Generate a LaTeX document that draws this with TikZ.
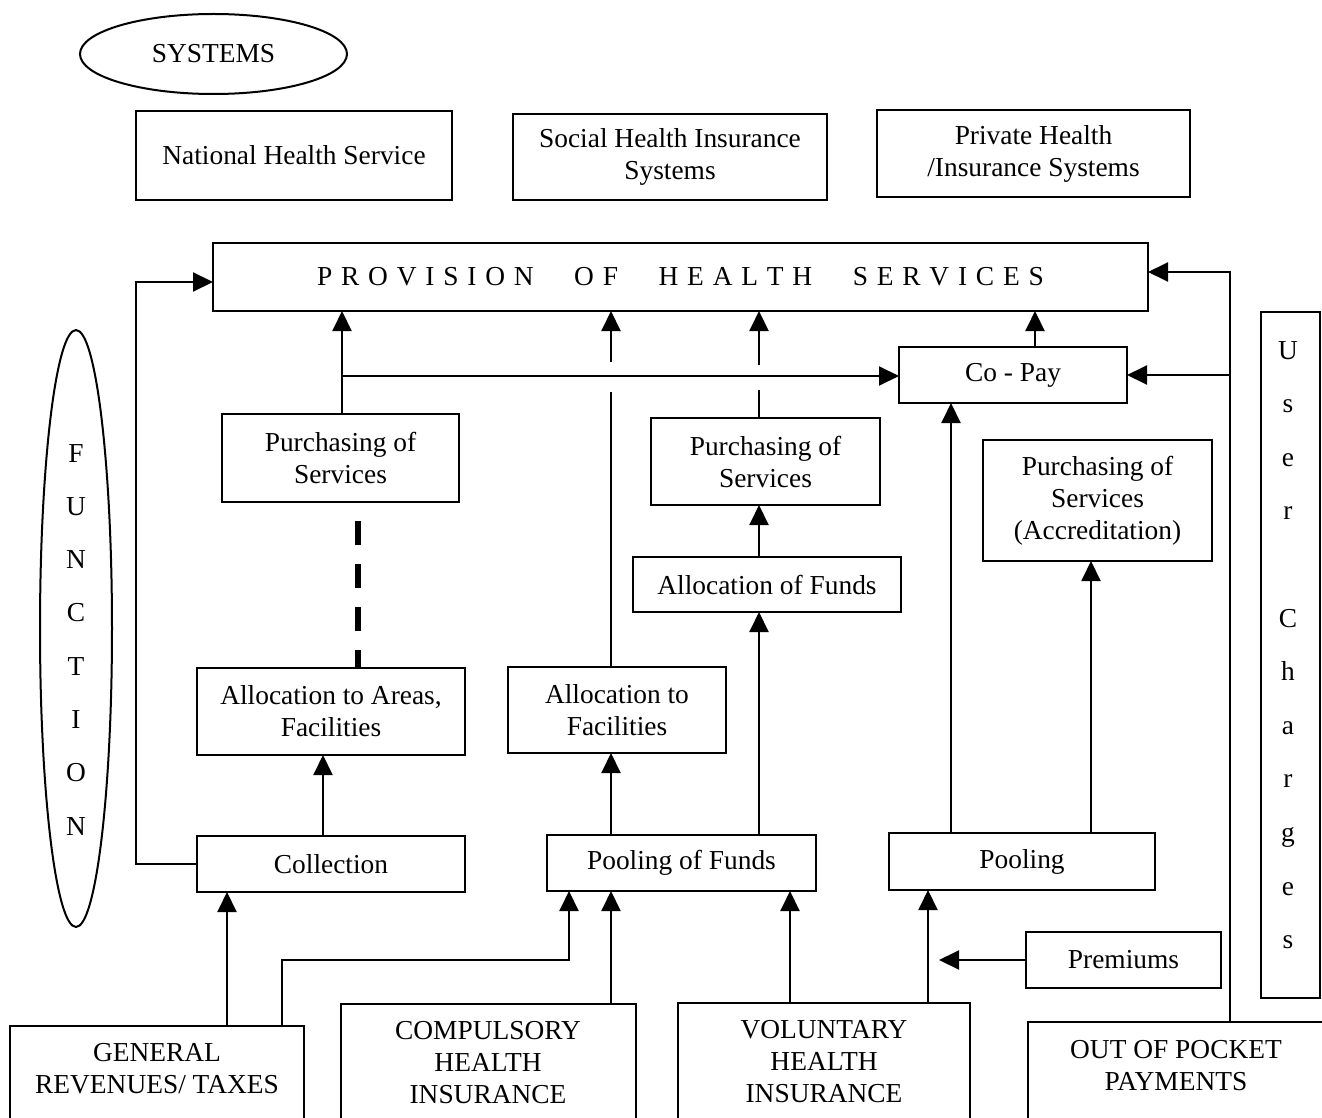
\documentclass[tikz,border=0pt]{standalone}
\usepackage{fontspec}
\setmainfont{Liberation Serif}
\usetikzlibrary{shapes.geometric,arrows.meta}
\newcommand\myls{\hspace{4.4pt}}
\newcommand\myws{\hspace{20.3pt}}
% \mybox{name}{x1}{y1}{x2}{y2}{text}
\newcommand\mybox[6]{\node[box, minimum width={(#4-#2)*0.5pt}, minimum height={(#5-#3)*0.5pt}] (#1) at ({(#2+#4)/2},{(#3+#5)/2}) {#6};}
\begin{document}
\begin{tikzpicture}[x=0.5pt,y=-0.5pt,
  font=\fontsize{13.7}{16}\selectfont,
  box/.style={draw, line width=1.1pt, inner sep=0pt, outer sep=0pt, align=center},
  oval/.style={draw, ellipse, line width=1pt, inner sep=0pt},
  conn/.style={line width=1pt},
  arr/.style={line width=1pt, -{Triangle[length=10pt,width=9.5pt]}},
  txt/.style={align=center, inner sep=0pt}
]
\useasboundingbox (0,0) rectangle (1322,1118);
\clip (0,0) rectangle (1322,1118);

% ovals
\node[oval, minimum width=133.5pt, minimum height=40pt] (sys) at (213.5,54) {SYSTEMS};
\node[oval, minimum width=36pt, minimum height=298.5pt] (func) at (76,628.5) {};
\foreach \ch [count=\i] in {F,U,N,C,T,I,O,N}
  \node[anchor=base, inner sep=0pt] (fn\i) at (76,{462+53.3*(\i-1)}) {\ch};

% system boxes
\mybox{nhs}{136}{111}{452}{200}{National Health Service}
\mybox{shi}{513}{114}{827}{200}{Social Health Insurance\\Systems}
\mybox{phi}{877}{110}{1190}{197}{Private Health\\/Insurance Systems}

% provision
\mybox{prov}{213}{243}{1148}{311}{P\myls R\myls O\myls V\myls I\myls S\myls I\myls O\myls N\myws O\myls F\myws H\myls E\myls A\myls L\myls T\myls H\myws S\myls E\myls R\myls V\myls I\myls C\myls E\myls S}

\mybox{copay}{899}{347}{1127}{403}{Co - Pay}

% user charges
\mybox{uc}{1261}{312}{1320}{998}{}
\foreach \ch/\k in {U/0,s/1,e/2,r/3,C/5,h/6,a/7,r/8,g/9,e/10,s/11}
  \node[anchor=base, inner sep=0pt] (uc\k) at (1288,{359+53.6*\k}) {\ch};

% middle boxes
\mybox{pl}{222}{414}{459}{502}{Purchasing of\\Services}
\mybox{pm}{651}{418}{880}{505}{Purchasing of\\Services}
\mybox{pa}{983}{440}{1212}{561}{Purchasing of\\Services\\(Accreditation)}
\mybox{afund}{633}{557}{901}{612}{Allocation of Funds}
\mybox{aa}{197}{668}{465}{755}{Allocation to Areas,\\Facilities}
\mybox{af}{508}{667}{726}{753}{Allocation to\\Facilities}
\mybox{coll}{197}{836}{465}{892}{Collection}
\mybox{pof}{547}{835}{816}{891}{Pooling of Funds}
\mybox{pool}{889}{833}{1155}{890}{Pooling}
\mybox{prem}{1026}{932}{1221}{988}{Premiums}

% bottom source boxes
\mybox{gen}{10}{1026}{304}{1180}{}
\mybox{comp}{341}{1004}{636}{1180}{}
\mybox{vol}{678}{1003}{970}{1180}{}
\mybox{oop}{1028}{1022}{1345}{1180}{}
\node[txt] (gent) at (157,1069) {GENERAL\\REVENUES/ TAXES};
\node[txt] (compt) at (488,1063) {COMPULSORY\\HEALTH\\INSURANCE};
\node[txt] (volt) at (824,1062) {VOLUNTARY\\HEALTH\\INSURANCE};
\node[txt] (oopt) at (1176,1066) {OUT OF POCKET\\PAYMENTS};

% helper coordinates
\coordinate (c227) at (227,0);
\coordinate (c323) at (323,0);
\coordinate (c342) at (342,0);
\coordinate (c358) at (358,0);
\coordinate (c569) at (569,0);
\coordinate (c611) at (611,0);
\coordinate (c759) at (759,0);
\coordinate (c790) at (790,0);
\coordinate (c928) at (928,0);
\coordinate (c951) at (951,0);
\coordinate (c1035) at (1035,0);
\coordinate (c1091) at (1091,0);
\coordinate (lbend) at (136,282);
\coordinate (rbend) at (1230,272);
\coordinate (hbend) at (342,376);
\coordinate (gbend) at (282,960);
\coordinate (premtip) at (939,958);
\coordinate (g1a) at (611,392);
\coordinate (g1b) at (611,362);
\coordinate (g2a) at (759,390);
\coordinate (g2b) at (759,365);

% connectors
\draw[arr] (coll.west) -| (lbend) -- (lbend -| prov.west);
\draw[arr] (oop.north -| rbend) -- (rbend) -- (rbend -| prov.east);
\draw[arr] (copay.east -| rbend) -- (copay.east);
\draw[arr] (copay.north -| c1035) -- (prov.south -| c1035);
\draw[arr] (pl.north -| c342) -- (prov.south -| c342);
\draw[arr] (hbend) -- (hbend -| copay.west);
\draw[line width=3pt, dash pattern=on 12pt off 9.5pt, dash phase=12pt] (pl.south -| c358) -- (aa.north -| c358);
\draw[arr] (coll.north -| c323) -- (aa.south -| c323);
\draw[arr] (gen.north -| c227) -- (coll.south -| c227);
\draw[arr] (gen.north -| gbend) -- (gbend) -| (pof.south -| c569);
\draw[arr] (comp.north -| c611) -- (pof.south -| c611);
\draw[arr] (vol.north -| c790) -- (pof.south -| c790);
\draw[arr] (vol.north -| c928) -- (pool.south -| c928);
\draw[arr] (prem.west) -- (prem.west -| premtip);
\draw[arr] (pof.north -| c611) -- (af.south -| c611);
\draw[conn] (af.north -| g1a) -- (g1a);
\draw[arr] (g1b) -- (prov.south -| g1b);
\draw[arr] (pof.north -| c759) -- (afund.south -| c759);
\draw[arr] (afund.north -| c759) -- (pm.south -| c759);
\draw[conn] (pm.north -| g2a) -- (g2a);
\draw[arr] (g2b) -- (prov.south -| g2b);
\draw[arr] (pool.north -| c951) -- (copay.south -| c951);
\draw[arr] (pool.north -| c1091) -- (pa.south -| c1091);
\end{tikzpicture}
\end{document}
